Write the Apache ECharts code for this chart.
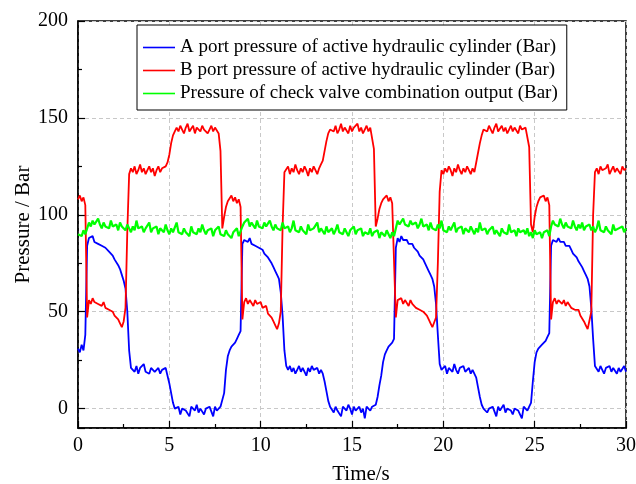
<!DOCTYPE html>
<html>
<head>
<meta charset="utf-8">
<script src="https://cdn.jsdelivr.net/npm/echarts@6/dist/echarts.min.js"></script>
<style>html,body{margin:0;padding:0;background:#fff}#c{width:636px;height:484px}</style>
</head>
<body>
<div id="c"></div>
<script>
// sampling grid of the recorded signals (seconds)
const timeStep = 0.1;
const seriesNames = [
  'A port pressure of active hydraulic cylinder (Bar)',
  'B port pressure of active hydraulic cylinder (Bar)',
  'Pressure of check valve combination output (Bar)'
];
const xTickValues = [0, 5, 10, 15, 20, 25, 30];
const yTickValues = [0, 50, 100, 150, 200];

// A port pressure (Bar), one value per 0.1 s, t = 0 .. 30 s
const aPort = [
  31, 29, 33, 30, 38,
  84, 88, 87, 89, 86, 87, 85, 86, 84, 85, 83, 82, 81, 80, 79, 77, 76, 74, 72, 69,
  66, 62, 50, 30, 21,
  21, 19, 22, 18, 21, 20, 23, 19, 20, 18, 21, 22, 19, 20, 21, 18, 20, 19, 21,
  17, 13, 8, 3,
  0, -1, 1, -3, 0, 1, -1, 0, -4, 1, 0, -1, 2, -2, 0, 1, -3, 0, -1, 1, 0, -4, 1, -1, 0, 1,
  0, 8, 20, 27, 30, 32, 33, 34, 36, 38, 40,
  85, 87, 88, 86, 88, 85, 86, 84, 85, 83, 84, 82, 80, 81, 78, 77, 75, 73, 71, 69,
  67, 60, 48, 30, 22,
  20, 22, 19, 21, 18, 20, 22, 19, 21, 20, 17, 21, 19, 22, 20, 19, 21, 18, 20,
  18, 14, 9, 4, 1,
  0, -2, 1, -1, 0, -4, 1, 0, -1, 2, 0, -3, 1, -1, 0, 1, -2, 0, -5, 1, 0, -1, 1, 0,
  2, 6, 12, 17, 24, 28, 30, 32, 33, 34, 36,
  83, 88, 86, 89, 87, 86, 87, 85, 84, 85, 83, 82, 81, 79, 80, 77, 75, 74, 71, 69,
  67, 63, 54, 38, 23,
  20, 19, 22, 18, 21, 20, 19, 23, 20, 18, 21, 20, 22, 19, 20, 21, 18, 20, 19,
  16, 11, 6, 2,
  0, 1, -2, 0, -1, 1, 0, -4, 1, -1, 0, 2, -2, 0, 1, -1, -3, 0, 1, -1, 0, -5, 1, 0, -1, 1,
  3, 14, 24, 29, 31, 32, 33, 34, 35, 37, 39,
  84, 87, 88, 86, 88, 86, 85, 86, 84, 83, 84, 82, 80, 81, 78, 76, 75, 73, 71, 69,
  67, 63, 52, 36, 22,
  21, 19, 22, 20, 18, 21, 20, 22, 19, 21, 20, 18, 21, 19, 20, 22, 19
];

// B port pressure (Bar)
const bPort = [
  108, 110, 107, 109, 105,
  47, 56, 54, 57, 55, 56, 54, 55, 53, 55, 52, 53, 51, 52, 50, 48, 49, 46, 44, 42,
  45, 52, 92, 121,
  124, 122, 125, 121, 123, 126, 122, 124, 121, 123, 125, 122, 124, 120, 123, 125, 122, 124, 123, 125,
  127, 131, 137, 141, 143,
  145, 143, 146, 144, 142, 145, 147, 143, 144, 146, 142, 145, 144, 143, 146, 144, 145, 142, 144, 146, 143, 145, 144, 142,
  133, 93, 99, 104, 107, 108, 110, 107, 109, 106, 108, 104,
  46, 55, 57, 54, 56, 55, 53, 56, 54, 53, 55, 52, 51, 53, 49, 50, 47, 45, 43, 41,
  44, 50, 94, 122,
  123, 125, 121, 124, 122, 126, 123, 121, 124, 122, 125, 123, 120, 124, 122, 125, 123, 121, 124, 126,
  128, 133, 138, 142, 144,
  145, 143, 146, 142, 144, 147, 143, 145, 144, 142, 146, 143, 145, 144, 147, 143, 145, 142, 144, 146, 143, 145, 144,
  134, 94, 98, 103, 106, 108, 109, 110, 107, 109, 106, 105,
  47, 56, 55, 57, 54, 56, 55, 53, 56, 54, 55, 52, 53, 51, 52, 50, 49, 48, 46, 44, 42, 43, 47,
  75, 112,
  123, 121, 124, 122, 125, 123, 120, 124, 122, 126, 123, 121, 124, 122, 125, 123, 121, 124, 122,
  127, 132, 137, 141, 144,
  145, 143, 146, 144, 142, 145, 147, 143, 144, 146, 143, 145, 142, 144, 146, 143, 145, 144, 142, 146, 144, 143, 145, 144,
  135, 95, 91, 99, 104, 107, 109, 108, 110, 107, 109, 105,
  46, 55, 57, 54, 56, 55, 54, 56, 53, 55, 54, 52, 53, 51, 50, 51, 48, 47, 45, 43, 41, 42,
  50, 100,
  122, 124, 121, 125, 123, 122, 124, 126, 121, 123, 125, 122, 124, 123, 121, 125, 123, 124
];

// check valve combination output pressure (Bar)
const checkValve = [
  90, 91, 89, 92, 90,
  93, 96, 94, 97, 95, 94, 98, 95, 93, 96,
  94, 95, 93, 97, 94, 93, 95, 92, 96, 94,
  93, 92, 95, 93, 91, 94, 92, 97, 93, 92,
  94, 91, 93, 92, 96, 91, 93, 92, 94, 90,
  93, 92, 91, 95, 92, 90, 93, 91, 92, 96,
  91, 92, 90, 93, 91, 92, 89, 94, 91, 92,
  90, 93, 91, 95, 92, 90, 92, 91, 93, 89,
  92, 91, 94, 90, 91, 89, 92, 90, 91, 88,
  91, 90, 93, 89, 90,
  94, 96, 95, 98, 94, 96, 95, 93, 97, 94,
  95, 93, 96, 94, 93, 97, 94, 92, 95, 93,
  94, 92, 96, 93, 92, 94, 91, 93, 97, 92,
  93, 91, 94, 92, 93, 90, 95, 92, 91, 93,
  92, 96, 91, 93, 92, 90, 94, 91, 92, 93,
  90, 92, 95, 91, 92, 90, 93, 91, 89, 92,
  91, 94, 90, 92, 91, 93, 89, 91, 92, 90,
  93, 89, 91, 90, 92, 88, 91, 90, 89, 92,
  90, 88, 91, 89,
  93, 97, 95, 94, 98, 95, 96, 94, 97, 95,
  94, 96, 93, 95, 98, 94, 93, 95, 92, 96,
  93, 94, 92, 95, 93, 97, 92, 93, 91, 94,
  92, 93, 96, 91, 93, 92, 94, 90, 93, 92,
  91, 94, 92, 90, 93, 91, 96, 92, 91, 93,
  90, 92, 91, 94, 90, 92, 91, 89, 93, 91,
  92, 90, 95, 91, 90, 92, 89, 93, 91, 90,
  92, 90, 93, 89, 91, 88, 92, 90, 89, 91,
  88, 91, 90, 92, 89,
  94, 97, 95, 96, 94, 98, 95, 93, 96, 94,
  95, 93, 97, 94, 92, 95, 93, 96, 92, 94,
  93, 95, 92, 94, 91, 93, 97, 92, 93, 91,
  94, 92, 93, 90, 95, 92, 91, 93, 92, 94,
  91, 93
];

const FONT = '"Liberation Serif", "Times New Roman", serif';
const toPairs = arr => arr.map((v, i) => [Math.round(i * timeStep * 10) / 10, v]);

const chart = echarts.init(document.getElementById('c'), null, { renderer: 'canvas' });
const tickStyle = { color: '#000', width: 1.2 };
const gridLine = { show: true, lineStyle: { color: '#c8c8c8', type: [4, 3], width: 1 } };
const colors = ['#0000ff', '#ff0000', '#00ff00'];

chart.setOption({
  animation: false,
  backgroundColor: '#fff',
  grid: { left: 78, right: 10, top: 21, bottom: 56, show: true, borderColor: '#000', borderWidth: 1.5,
    backgroundColor: 'transparent', containLabel: false, outerBoundsMode: 'none' },
  legend: {
    orient: 'vertical', left: 137, top: 25,
    icon: 'rect', itemWidth: 32, itemHeight: 1.6, itemGap: 4,
    padding: [13, 9, 7, 6],
    backgroundColor: '#fff', borderColor: '#000', borderWidth: 1, borderRadius: 0,
    textStyle: { fontFamily: FONT, fontSize: 19, color: '#000', lineHeight: 19 },
    data: seriesNames
  },
  xAxis: {
    type: 'value', min: xTickValues[0], max: xTickValues[xTickValues.length - 1], interval: 5,
    name: 'Time/s', nameLocation: 'middle', nameGap: 36, nameMoveOverlap: false,
    nameTextStyle: { fontFamily: FONT, fontSize: 21, color: '#000', padding: [0, 0, 0, 18] },
    axisLine: { show: true, onZero: false, lineStyle: { color: '#000', width: 1.5 } },
    axisTick: { show: true, inside: true, length: 7, lineStyle: tickStyle },
    minorTick: { show: true, splitNumber: 2, length: 4, lineStyle: tickStyle },
    axisLabel: { fontFamily: FONT, fontSize: 20, color: '#000', margin: 8 },
    splitLine: gridLine
  },
  yAxis: {
    type: 'value', min: -10, max: yTickValues[yTickValues.length - 1], splitNumber: 4,
    name: 'Pressure / Bar', nameLocation: 'middle', nameGap: 44, nameMoveOverlap: false,
    nameTextStyle: { fontFamily: FONT, fontSize: 21, color: '#000' },
    axisLine: { show: true, onZero: false, lineStyle: { color: '#000', width: 1.5 } },
    axisTick: { show: true, inside: true, length: 7, lineStyle: tickStyle },
    minorTick: { show: true, splitNumber: 2, length: 4, lineStyle: tickStyle },
    axisLabel: { fontFamily: FONT, fontSize: 20, color: '#000', margin: 10, showMinLabel: false,
      formatter: v => (yTickValues.indexOf(v) >= 0 ? String(v) : '') },
    splitLine: gridLine
  },
  series: [
    { name: seriesNames[0], type: 'line', data: toPairs(aPort), symbol: 'none', lineStyle: { color: colors[0], width: 1.8 }, itemStyle: { color: colors[0] }, z: 2 },
    { name: seriesNames[1], type: 'line', data: toPairs(bPort), symbol: 'none', lineStyle: { color: colors[1], width: 1.8 }, itemStyle: { color: colors[1] }, z: 3 },
    { name: seriesNames[2], type: 'line', data: toPairs(checkValve), symbol: 'none', lineStyle: { color: colors[2], width: 2.2 }, itemStyle: { color: colors[2] }, z: 4 }
  ]
});
</script>
</body>
</html>
